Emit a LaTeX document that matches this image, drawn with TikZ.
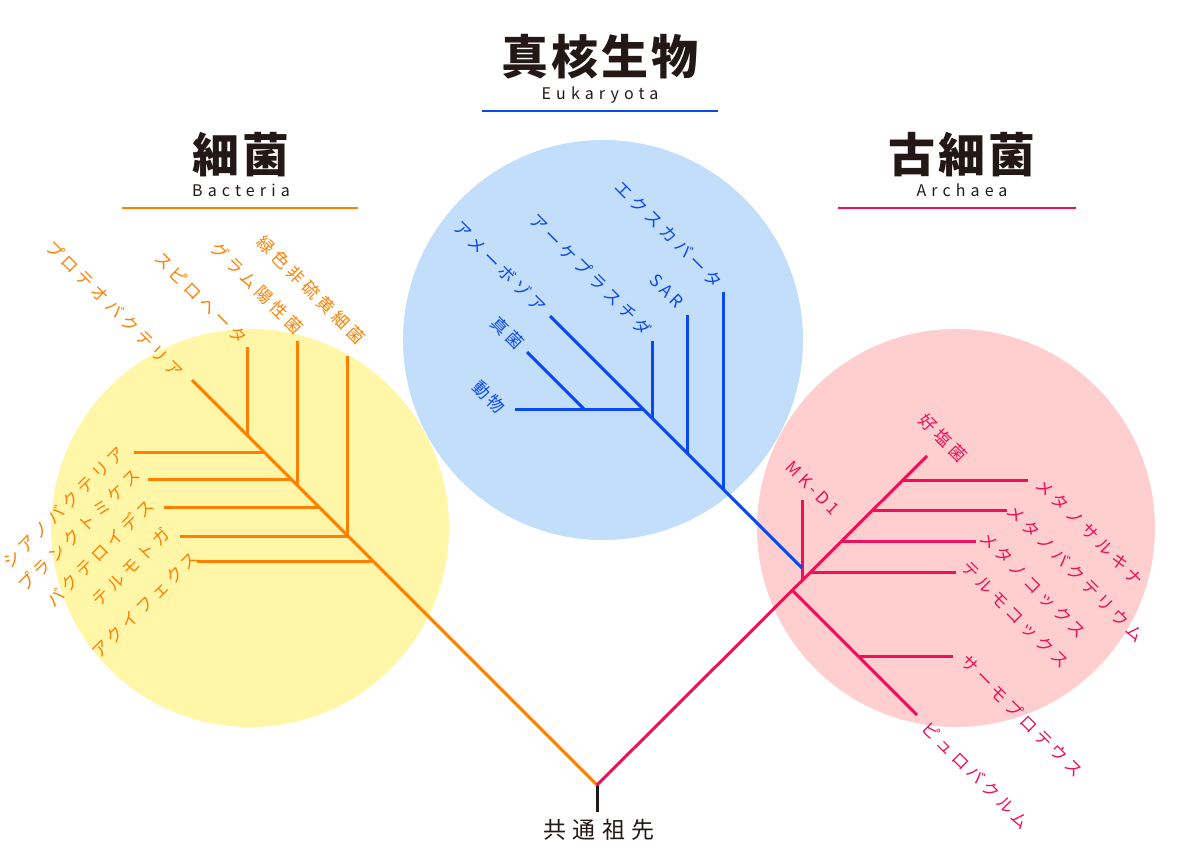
\documentclass[tikz,border=0pt]{standalone}
\usepackage{fontspec}
\newfontfamily\jplab{Noto Sans CJK JP}[LetterSpace=24]
\newfontfamily\jptitle{Noto Sans CJK JP}[LetterSpace=6]
\newfontfamily\jplat{Noto Sans CJK JP}[LetterSpace=32]
\newfontfamily\jproot{Noto Sans CJK JP}[LetterSpace=28]
\definecolor{bacc}{RGB}{255,128,0}
\definecolor{bacf}{RGB}{255,246,168}
\definecolor{eukc}{RGB}{10,72,242}
\definecolor{eukf}{RGB}{194,222,251}
\definecolor{arcc}{RGB}{238,16,90}
\definecolor{arcf}{RGB}{255,207,207}
\definecolor{ink}{RGB}{35,24,21}
\begin{document}
\begin{tikzpicture}[x=1pt,y=-1pt,
  bac/.style={draw=bacc,line width=3pt},
  euk/.style={draw=eukc,line width=3pt},
  arc/.style={draw=arcc,line width=3pt},
  lab/.style={font={\jplab\fontsize{17pt}{17pt}\selectfont},inner sep=0pt,anchor=center},
  ttl/.style={font={\jptitle\bfseries\fontsize{47pt}{47pt}\selectfont},text=ink,inner sep=0pt},
  sub/.style={font={\jplat\fontsize{16pt}{16pt}\selectfont},text=ink,inner sep=0pt},
  rootlab/.style={font={\jproot\fontsize{23pt}{23pt}\selectfont},text=ink,inner sep=0pt},
  bl/.style={lab,text=bacc},
  el/.style={lab,text=eukc},
  al/.style={lab,text=arcc}]
\useasboundingbox (0,0) rectangle (1200,862);
% circles
\fill[bacf] (250,528) circle[radius=199pt];
\fill[arcf] (956,528) circle[radius=199pt];
\fill[eukf] (603,340) circle[radius=200pt];

% titles
\node[ttl] (tE) at (600,57) {真核生物};
\node[sub] (sE) at (600,95) {Eukaryota};
\coordinate (eL1) at (482,111); \coordinate (eL2) at (718,111);
\draw[eukc,line width=2.8pt] (eL1) -- (eL2);
\node[ttl] (tB) at (241,155) {細菌};
\node[sub] (sB) at (241,190) {Bacteria};
\coordinate (bL1) at (122,208); \coordinate (bL2) at (358,208);
\draw[bacc,line width=2.8pt] (bL1) -- (bL2);
\node[ttl] (tA) at (962,155) {古細菌};
\node[sub] (sA) at (962,190) {Archaea};
\coordinate (aL1) at (838,208); \coordinate (aL2) at (1076,208);
\draw[arcc,line width=2.8pt] (aL1) -- (aL2);

% root
\coordinate (R) at (597,785);
\coordinate (Rb) at (597,812);
\draw[ink,line width=3pt] (R) -- (Rb);
\node[rootlab] (root) at (599,830) {共通祖先};

% bacteria tree
\coordinate (bT) at (192,380);
\coordinate (bj1) at (247,435); \coordinate (bt1) at (247,347);
\coordinate (bj2) at (297,485); \coordinate (bt2) at (297,341);
\coordinate (bj3) at (347,535); \coordinate (bt3) at (347,356);
\coordinate (bh1) at (264,452); \coordinate (bh1t) at (134,452);
\coordinate (bh2) at (291,479); \coordinate (bh2t) at (148,479);
\coordinate (bh3) at (319,507); \coordinate (bh3t) at (164,507);
\coordinate (bh4) at (348,536); \coordinate (bh4t) at (180,536);
\coordinate (bh5) at (373,561); \coordinate (bh5t) at (197,561);
\draw[bac] (R) -- (bT);
\foreach \a/\b in {bj1/bt1,bj2/bt2,bj3/bt3,bh1/bh1t,bh2/bh2t,bh3/bh3t,bh4/bh4t,bh5/bh5t}
  \draw[bac] (\a) -- (\b);
\node[bl,rotate=-45] (lProt) at (115,309) {プロテオバクテリア};
\node[bl,rotate=-45] (lSpir) at (201,298) {スピロヘータ};
\node[bl,rotate=-45] (lGram) at (257,288) {グラム陽性菌};
\node[bl,rotate=-45] (lGreen) at (311,290) {緑色非硫黄細菌};
\node[bl,rotate=45] (lCyan) at (64,507) {シアノバクテリア};
\node[bl,rotate=45] (lPlan) at (79,530) {プランクトミケス};
\node[bl,rotate=45] (lBact) at (100,553) {バクテロイデス};
\node[bl,rotate=45] (lTher) at (131,567) {テルモトガ};
\node[bl,rotate=45] (lAqui) at (145,605) {アクイフェクス};

% archaea tree
\coordinate (aT) at (927,456);
\coordinate (aj1) at (902,480); \coordinate (at1) at (1028,480);
\coordinate (aj2) at (872,510); \coordinate (at2) at (1007,510);
\coordinate (aj3) at (841,541); \coordinate (at3) at (976,541);
\coordinate (aj4) at (810,572); \coordinate (at4) at (956,572);
\coordinate (mkj) at (802,580); \coordinate (mkt) at (802,500);
\coordinate (lowj) at (792,590); \coordinate (lowt) at (917,715);
\coordinate (tpj) at (858,656); \coordinate (tpt) at (953,656);
\draw[arc] (R) -- (aT);
\foreach \a/\b in {aj1/at1,aj2/at2,aj3/at3,aj4/at4,mkj/mkt,lowj/lowt,tpj/tpt}
  \draw[arc] (\a) -- (\b);
\node[al,rotate=-45] (lHalo) at (943,438) {好塩菌};
\node[al,rotate=-45] (lMK) at (813,488) {MK-D1};
\node[al,rotate=-45] (lMsar) at (1090,532) {メタノサルキナ};
\node[al,rotate=-45] (lMbac) at (1076,573) {メタノバクテリウム};
\node[al,rotate=-45] (lMcoc) at (1033,585) {メタノコックス};
\node[al,rotate=-45] (lTcoc) at (1015,615) {テルモコックス};
\node[al,rotate=-45] (lTpro) at (1022,716) {サーモプロテウス};
\node[al,rotate=-45] (lPyro) at (976,775) {ピュロバクルム};

% eukaryote tree
\coordinate (ej0) at (802,568);
\coordinate (eT) at (550,316);
\coordinate (ej1) at (723,489); \coordinate (et1) at (723,292);
\coordinate (ej2) at (687,453); \coordinate (et2) at (687,315);
\coordinate (ej3) at (652,418); \coordinate (et3) at (652,341);
\coordinate (ej4) at (643,409); \coordinate (et4) at (515,409);
\coordinate (ej5) at (584,409); \coordinate (et5) at (527,352);
\draw[euk] (ej0) -- (eT);
\foreach \a/\b in {ej1/et1,ej2/et2,ej3/et3,ej4/et4,ej5/et5}
  \draw[euk] (\a) -- (\b);
\node[el,rotate=-45] (lExc) at (669,234) {エクスカバータ};
\node[el,rotate=-45] (lSAR) at (667,291) {SAR};
\node[el,rotate=-45] (lArch) at (591,275) {アーケプラスチダ};
\node[el,rotate=-45] (lAmoe) at (500,267) {アメーボゾア};
\node[el,rotate=-45] (lFung) at (508,333) {真菌};
\node[el,rotate=-45] (lAnim) at (489,397) {動物};
\end{tikzpicture}
\end{document}
